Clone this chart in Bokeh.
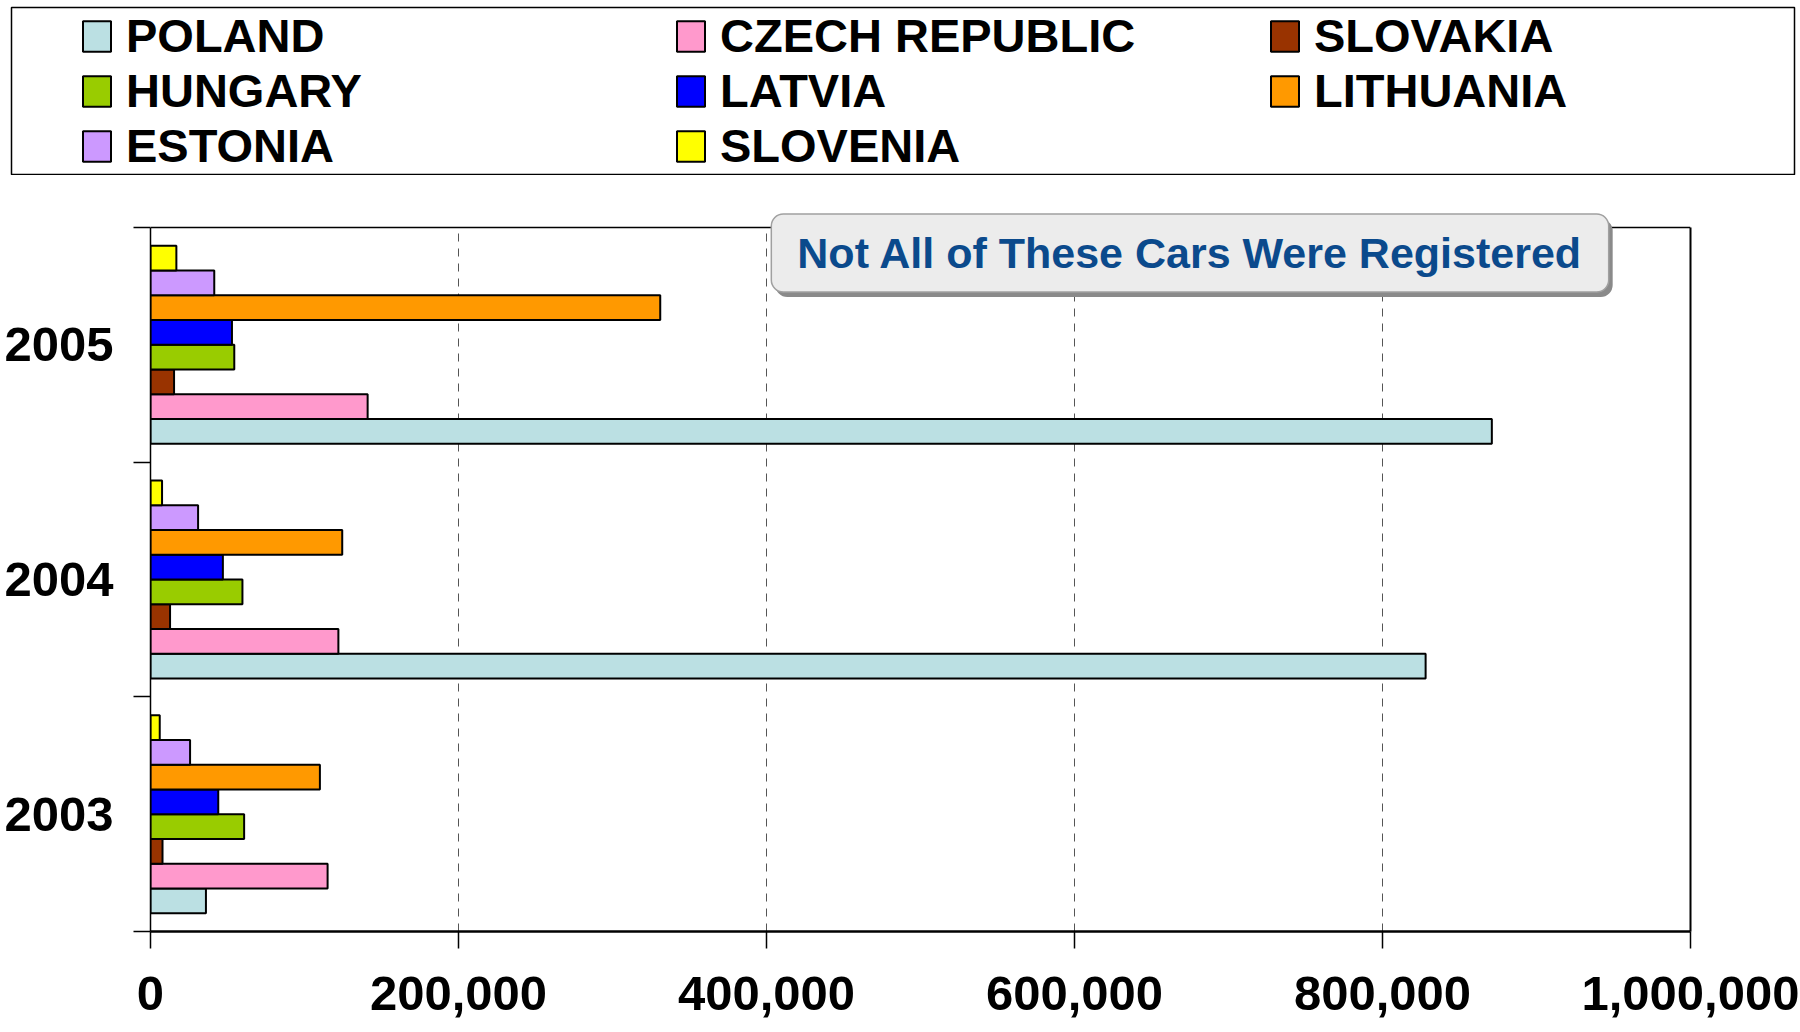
from bokeh.plotting import figure
from bokeh.layouts import column
from bokeh.models import (Range1d, FixedTicker, NumeralTickFormatter, Legend, LegendItem,
                          Label, Span, LinearAxis)
from bokeh.embed import file_html
from bokeh.resources import INLINE

years = ["2003", "2004", "2005"]
countries = ["POLAND", "CZECH REPUBLIC", "SLOVAKIA", "HUNGARY",
             "LATVIA", "LITHUANIA", "ESTONIA", "SLOVENIA"]
colors = ["#BBE0E3", "#FF99CC", "#993300", "#99CC00",
          "#0000FF", "#FF9900", "#CC99FF", "#FFFF00"]

poland = [36000, 828000, 871000]
czech = [115000, 122000, 141000]
slovakia = [7800, 12700, 15300]
hungary = [60800, 59700, 54400]
latvia = [44000, 47000, 52900]
lithuania = [110000, 124500, 331000]
estonia = [25700, 30900, 41400]
slovenia = [6000, 7500, 16800]
series = [poland, czech, slovakia, hungary, latvia, lithuania, estonia, slovenia]

x_ticks = [0, 200000, 400000, 600000, 800000, 1000000]
note_text = "Not All of These Cars Were Registered"

FONT = "Liberation Sans"
n_years = len(years)
bar_h = 0.1055

# ---------------- legend panel (its frame outline is the legend box) ----------------
leg = figure(width=1800, height=175, x_range=Range1d(0, 1), y_range=Range1d(0, 1),
             x_axis_type=None, y_axis_type=None, output_backend="svg",
             toolbar_location=None, min_border_left=11, min_border_right=6,
             min_border_top=7, min_border_bottom=1, frame_align=False)
leg.outline_line_color = "black"
leg.outline_line_width = 1.5

items = []
for name, vals, col in zip(countries, series, colors):
    r = leg.hbar(y=list(range(n_years)), right=vals, left=0, height=bar_h,
                 fill_color=col, line_color="black", line_width=2, visible=False)
    items.append(LegendItem(label=name, renderers=[r]))

legend = Legend(items=items, orientation="horizontal", ncols=3,
                location=(68, 1), padding=0, margin=0, spacing=0,
                glyph_width=35, glyph_height=38, label_standoff=12,
                label_width=547, label_text_font=FONT,
                label_text_font_size="47px", label_text_font_style="bold",
                label_text_color="black", click_policy="none",
                border_line_alpha=0, background_fill_alpha=0)
leg.add_layout(legend, "center")

# ---------------- chart ----------------
y_top = n_years + 17 / 235  # a little room above the plot box for the callout
p = figure(width=1800, height=857, x_range=Range1d(0, 1000000), y_range=Range1d(0, y_top),
           output_backend="svg", toolbar_location=None,
           min_border_left=150, min_border_right=110,
           min_border_top=35, min_border_bottom=101, frame_align=False)
p.outline_line_color = None

# dashed vertical gridlines, limited to the plot box
grid_x = x_ticks[1:-1]
p.segment(x0=grid_x, x1=grid_x, y0=[0] * len(grid_x), y1=[n_years] * len(grid_x),
          line_color="#555555", line_width=1, line_dash="8 7")

for j, (vals, col) in enumerate(zip(series, colors)):
    ys = [i + 0.5 + (j - 3.5) * bar_h for i in range(n_years)]
    p.hbar(y=ys, right=vals, left=0, height=bar_h, fill_color=col,
           line_color="black", line_width=2)

# x axis
p.xaxis.ticker = FixedTicker(ticks=x_ticks)
p.xaxis.formatter = NumeralTickFormatter(format="0,0")
p.xaxis.major_label_text_font = FONT
p.xaxis.major_label_text_font_size = "49px"
p.xaxis.major_label_text_font_style = "bold"
p.xaxis.major_label_text_color = "black"
p.xaxis.major_tick_out = 17
p.xaxis.major_tick_in = 0
p.xaxis.major_tick_line_width = 1.5
p.xaxis.major_tick_line_color = "black"
p.xaxis.axis_line_width = 2.5
p.xaxis.axis_line_color = "black"
p.xaxis.major_label_standoff = 28

# y axis: labels at category centres, ticks at category boundaries
p.yaxis.ticker = FixedTicker(ticks=[i + 0.5 for i in range(n_years)],
                             minor_ticks=list(range(n_years + 1)))
p.yaxis.bounds = (0, n_years)
p.yaxis.major_label_overrides = {i + 0.5: y for i, y in enumerate(years)}
p.yaxis.major_label_text_font = FONT
p.yaxis.major_label_text_font_size = "49px"
p.yaxis.major_label_text_font_style = "bold"
p.yaxis.major_label_text_color = "black"
p.yaxis.major_tick_out = 0
p.yaxis.major_tick_in = 0
p.yaxis.minor_tick_out = 17
p.yaxis.minor_tick_in = 0
p.yaxis.minor_tick_line_color = "black"
p.yaxis.minor_tick_line_width = 1.5
p.yaxis.axis_line_width = 1.5
p.yaxis.axis_line_color = "black"
p.yaxis.major_label_standoff = 20

p.xgrid.visible = False
p.ygrid.visible = False

# plot box: right edge (tick-less axis) and top edge
right_axis = LinearAxis(ticker=FixedTicker(ticks=[]), bounds=(0, n_years),
                        axis_line_color="black", axis_line_width=2,
                        major_tick_out=0, major_tick_in=0,
                        minor_tick_out=0, minor_tick_in=0)
p.add_layout(right_axis, "right")
top_border = Span(location=n_years, dimension="width",
                  line_color="black", line_width=1.5)
p.add_layout(top_border)

# callout box with shadow
pad = dict(left=26, right=26, top=15, bottom=15)
shadow = Label(x=675000, y=2.8915, x_units="data", y_units="data",
               text=note_text, text_align="center", text_baseline="middle",
               text_font=FONT, text_font_size="43px", text_font_style="bold",
               text_color="#8a8a8a", x_offset=4, y_offset=-5,
               background_fill_color="#8a8a8a", border_line_alpha=0,
               border_radius=12, padding=pad)
note = Label(x=675000, y=2.8915, x_units="data", y_units="data",
             text=note_text, text_align="center", text_baseline="middle",
             text_font=FONT, text_font_size="43px", text_font_style="bold",
             text_color="#0B4A8C",
             background_fill_color="#ECECEC", border_line_color="#A0A0A0",
             border_line_width=1.5,
             border_radius=12, padding=pad)
p.add_layout(shadow)
p.add_layout(note)

layout = column(leg, p, spacing=0)
open("out.html", "w").write(file_html(layout, INLINE))
